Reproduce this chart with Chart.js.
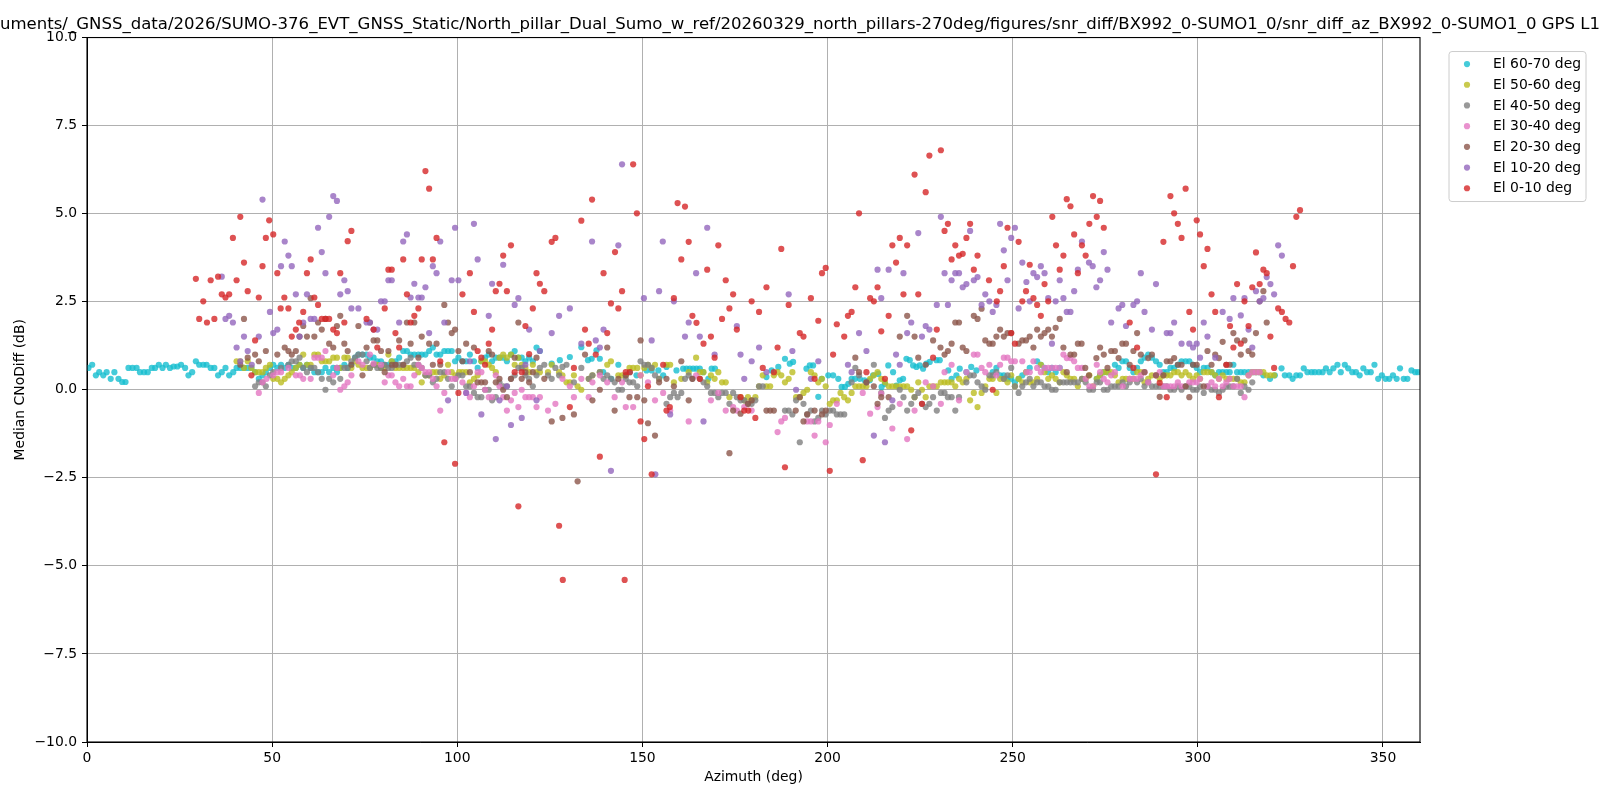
<!DOCTYPE html>
<html><head><meta charset="utf-8">
<script src="https://cdn.jsdelivr.net/npm/chart.js@4.4.1/dist/chart.umd.min.js"></script>
<style>html,body{margin:0;padding:0;background:#fff;}canvas{display:block;}</style>
</head><body>
<canvas id="c" width="1600" height="800"></canvas>
<script>
const titleText = "uments/_GNSS_data/2026/SUMO-376_EVT_GNSS_Static/North_pillar_Dual_Sumo_w_ref/20260329_north_pillars-270deg/figures/snr_diff/BX992_0-SUMO1_0/snr_diff_az_BX992_0-SUMO1_0 GPS L1";
const xTicks = [0, 50, 100, 150, 200, 250, 300, 350];
const xTickLabels = ["0", "50", "100", "150", "200", "250", "300", "350"];
const yTicks = [-10, -7.5, -5, -2.5, 0, 2.5, 5, 7.5, 10];
const yTickLabels = ["\u221210.0", "\u22127.5", "\u22125.0", "\u22122.5", "0.0", "2.5", "5.0", "7.5", "10.0"];
const seriesLabels = ["El 60-70 deg", "El 50-60 deg", "El 40-50 deg", "El 30-40 deg", "El 20-30 deg", "El 10-20 deg", "El 0-10 deg"];
const seriesColors = ["rgba(23,190,207,0.8)", "rgba(188,189,34,0.8)", "rgba(127,127,127,0.8)", "rgba(227,119,194,0.8)", "rgba(140,86,75,0.8)", "rgba(148,103,189,0.8)", "rgba(214,39,40,0.8)"];

// [azimuth deg, median CNo diff dB]
const el60_70 = [
[0.4,0.62],[1.4,0.71],[2.4,0.41],[3.3,0.5],[4.4,0.41],[5.3,0.5],[6.4,0.31],[7.4,0.5],[8.5,0.31],[9.5,0.22],[10.4,0.22],[11.2,0.62],[12.3,0.62],[13.4,0.62],[14.3,0.5],[15.4,0.5],[16.4,0.5],[17.5,0.62],[18.4,0.62],[19.4,0.71],[20.4,0.62],[21.3,0.71],[22.4,0.62],[23.4,0.66],[24.4,0.66],[25.4,0.71],[26.5,0.62],[27.4,0.41],[28.4,0.5],[29.4,0.81],[30.3,0.71],[31.4,0.71],[32.3,0.71],[33.4,0.62],[34.4,0.62],[35.4,0.41],[36.4,0.5],[37.4,0.62],[38.4,0.41],[39.5,0.5],
[40.4,0.62],[41.4,0.62],[42.4,0.62],[43.4,0.62],[44.4,0.62],[45.4,0.5],[46.4,0.31],[47.4,0.41],[48.3,0.5],[49.4,0.62],[50.3,0.71],[51.4,0.62],[52.4,0.71],[53.4,0.62],[54.4,0.71],[55.3,0.62],[56.4,0.62],[57.4,0.71],[58.4,0.62],[59.4,0.71],[60.4,0.62],[61.4,0.5],[62.4,0.5],[63.4,0.5],[64.4,0.62],[65.4,0.5],[66.5,0.62],[67.5,0.5],[68.4,0.62],[69.5,0.71],[70.4,0.62],[71.4,0.71],[72.4,0.91],[73.3,1.0],[74.4,1.0],[75.5,1.0],[76.4,0.91],[77.4,0.91],[78.4,0.81],[79.4,0.81],[80.4,0.71],[81.4,0.71],[82.3,0.81],[83.3,0.81],[84.3,0.91],[85.4,1.1],[86.4,1.1],[87.4,1.0],[88.4,1.0],[89.5,1.0],[90.4,1.0],[91.4,1.0],[92.4,1.1],[93.4,1.2],[94.4,1.0],[95.4,1.0],[96.5,1.1],[97.5,1.1],[98.5,1.1],[99.4,0.81],[100.3,0.91],[101.4,0.81],[102.4,0.81],[103.4,1.0],[104.5,0.81],[105.5,0.62],[106.5,0.81],[107.5,0.91],[108.5,1.0],[109.4,0.81],[110.4,0.91],[111.4,0.91],[112.4,0.91],[113.4,0.81],[114.5,1.0],[115.5,1.1],[116.5,0.91],[117.4,0.91],[118.4,0.81],[119.4,0.91],[120.4,0.81],[121.4,1.2],[122.3,1.1],
[125.5,0.74],[127.7,0.84],[130.4,0.93],[133.5,1.21],[135.3,0.84],[136.3,0.88],[137.6,1.12],[138.5,0.88],[139.4,0.5],[141.6,0.31],[143.5,0.71],[146.6,0.5],[148.4,0.41],[151.1,0.55],[152.5,0.55],[154.3,0.55],[155.6,0.41],[156.5,0.65],[159.2,0.55],[161.0,0.6],[161.9,0.6],[162.8,0.6],[163.7,0.6],[164.6,0.6],[165.5,0.6],[166.4,0.5],[167.8,0.31],[168.7,0.6],[169.6,0.6],
[183.5,0.36],[184.9,0.55],[186.7,0.65],[188.5,0.88],[189.8,0.74],[190.7,0.79],[194.3,0.6],[195.2,0.69],[196.1,0.69],[197.5,-0.2],[198.4,0.31],[200.2,0.41],[201.5,0.41],[202.9,0.31],[203.8,0.08],[204.7,0.08],[205.6,0.17],[206.5,0.31],[207.4,0.31],[208.7,0.31],[210.0,0.27],[211.4,0.27],[212.3,0.41],[213.7,0.45],[214.6,0.08],[215.5,0.17],[216.4,0.69],[217.7,0.5],[218.6,0.12],[219.5,0.27],[220.4,0.31],[221.3,0.88],[222.2,0.84],[223.1,0.69],[224.0,0.65],[224.9,0.69],[225.8,0.6],[226.7,0.74],[227.6,0.79],[229.4,0.84],[230.3,0.84],[232.6,0.55],[233.5,0.31],[234.8,0.41],[235.7,0.6],[237.5,0.5],[238.8,0.65],[240.2,0.55],
[244.6,0.5],[245.6,0.62],[246.6,0.41],[247.6,0.41],[248.6,0.31],[249.6,0.31],[250.6,0.21],[251.6,0.31],[252.6,0.41],[253.7,0.5],[254.6,0.62],[256.6,0.81],[257.6,0.71],[258.6,0.62],[259.6,0.5],[260.6,0.62],[261.6,0.5],[262.7,0.62],[272.7,0.31],[273.6,0.41],[274.6,0.5],[275.6,0.5],[277.6,0.71],[278.6,0.62],[279.6,0.81],[280.6,0.81],[281.6,0.62],[282.6,0.5],[283.6,0.62],[284.6,0.81],[285.6,0.91],[286.6,1.0],[287.6,0.91],[288.7,0.81],[289.7,0.71],[290.7,0.5],[291.6,0.5],[292.6,0.62],[293.6,0.62],[294.6,0.71],[295.6,0.81],[296.7,0.81],[297.7,0.81],[298.7,0.71],[299.7,0.62],[300.6,0.5],[301.6,0.62],[302.6,0.62],[303.7,0.5],[304.7,0.41],[305.7,0.5],[306.7,0.5],[307.7,0.5],[308.6,0.5],[309.6,0.71],[310.6,0.5],[311.6,0.5],[312.6,0.5],[313.7,0.5],[314.7,0.5],[315.7,0.5],[316.7,0.5],[317.7,0.41],
[319.5,0.31],[320.8,0.41],[322.6,0.61],[323.5,0.41],[324.7,0.41],[325.6,0.31],[326.6,0.41],[327.6,0.41],[328.6,0.61],[329.6,0.5],[330.7,0.5],[331.6,0.5],[332.7,0.5],[333.7,0.5],[334.6,0.61],[335.6,0.5],[336.6,0.61],[337.7,0.71],[338.6,0.5],[339.7,0.71],[340.6,0.61],[341.7,0.5],[342.7,0.5],[343.7,0.41],[344.7,0.61],[345.7,0.5],[346.7,0.5],[347.7,0.71],[348.7,0.31],[349.7,0.41],[350.7,0.31],[351.7,0.31],[352.7,0.41],[353.7,0.31],[354.6,0.61],[355.6,0.31],[356.6,0.31],[357.7,0.55],[358.7,0.5],[359.5,0.5]
];

const el50_60 = [
[40.4,0.81],[41.4,0.81],[42.4,0.62],[43.4,0.81],[44.4,0.62],[45.4,0.5],[46.4,0.5],[47.4,0.5],[48.3,0.62],[49.4,0.71],[50.3,0.31],[51.4,0.31],[52.4,0.21],[53.4,0.31],[54.4,0.41],[55.3,0.5],[56.4,0.62],[57.4,0.71],[58.4,1.0],[59.4,0.71],[60.4,0.71],[61.4,1.0],[62.4,1.0],[63.4,0.81],[64.4,0.81],[65.4,0.81],[66.5,0.91],[67.5,0.91],[68.4,0.62],[69.5,0.91],[70.4,0.91],[71.4,0.62],[72.4,0.81],[73.3,0.71],[74.4,0.62],[75.5,0.62],[76.4,0.62],[77.4,0.71],[78.4,0.71],[79.4,0.62],[80.4,0.62],[81.4,1.0],[82.3,0.81],[83.3,0.62],[84.3,0.62],[85.4,0.62],[86.4,0.62],[87.4,0.62],[88.4,0.62],[89.5,0.5],[90.4,0.21],[91.4,0.41],[92.4,0.41],[93.4,0.5],[94.4,0.5],[95.4,0.31],[96.5,0.41],[97.5,0.71],[98.5,0.5],[99.5,0.41],[100.5,0.5],[101.4,0.5],[102.4,0.5],[103.4,0.21],[104.5,0.31],[105.5,0.41],[106.5,0.81],[107.5,0.81],[108.5,0.71],[109.4,0.62],[110.4,0.5],[111.4,0.91],[112.4,1.0],[113.4,0.91],[114.5,1.0],[115.5,0.71],[116.5,0.91],[117.4,0.71],[118.4,0.62],[119.4,0.5],[120.4,0.71],[121.4,0.5],[122.3,0.5],
[124.5,0.5],[125.5,0.71],[127.5,0.5],[128.4,0.41],[129.5,0.21],[130.4,0.21],[131.5,0.41],[132.5,0.1],[133.5,0.0],[135.5,0.31],[136.5,0.41],[138.5,0.5],[140.5,0.71],[141.5,0.81],[143.5,0.41],[144.5,0.41],[145.5,0.41],[146.5,0.62],[147.5,0.62],[148.6,0.62],[149.5,0.41],[150.5,0.62],[151.5,0.71],[152.5,0.62],[153.4,0.71],[154.5,0.31],[156.5,0.71],[157.5,0.71],[158.5,0.21],[160.5,0.31],[162.5,0.5],[164.5,0.91],[165.5,0.5],[166.5,0.5],[167.5,0.21],[168.5,0.41],[169.5,0.31],[170.5,0.5],[171.5,0.21],[172.5,0.21],[173.5,-0.21],[176.5,-0.21],[177.5,-0.3],[178.5,-0.21],[179.5,-0.3],[180.5,-0.21],[181.5,0.1],[182.5,0.41],[183.5,0.1],[184.5,0.1],[185.5,0.41],[186.5,0.5],[187.5,0.41],[188.5,0.21],[189.5,0.31],[190.5,0.5],[191.5,-0.21],[192.5,-0.21],[193.5,-0.09],[194.5,0.0],[195.5,0.5],[196.5,0.41],[197.5,0.21],[198.5,0.31],[199.5,0.1],[200.6,-0.4],[201.5,-0.3],[202.5,-0.3],[203.5,-0.09],[204.5,-0.21],[205.5,-0.3],[206.5,-0.09],[207.5,0.1],[208.5,0.1],[209.5,0.1],[210.5,0.1],[211.5,0.31],[212.5,0.41],[213.5,0.5],[214.5,0.31],[215.5,0.21],[216.5,0.1],[217.5,0.1],[218.5,0.1],[219.5,0.1],[220.5,0.1],[221.5,0.1],[222.6,0.0],[223.5,-0.21],[224.5,0.21],[225.5,0.0],[226.5,-0.21],[227.5,0.1],[228.5,0.1],[229.5,0.1],[230.6,0.21],[231.6,0.21],[232.5,0.21],[233.5,0.21],[234.5,0.1],[235.5,0.31],[236.5,0.21],[237.5,0.31],[238.5,-0.3],[239.5,-0.09],[240.5,-0.49],
[241.6,-0.09],[242.6,0.1],[243.7,0.31],[244.6,0.31],[245.6,-0.09],[246.6,0.31],[247.6,0.31],[248.6,0.21],[249.6,0.41],[250.6,0.1],[251.6,0.31],[252.6,0.21],[253.6,0.5],[254.6,0.21],[255.6,0.21],[256.6,0.31],[257.6,0.71],[258.6,0.5],[259.6,0.31],[260.6,0.41],[261.6,0.31],[262.7,0.21],[263.7,0.5],[264.6,0.41],[265.6,0.31],[266.6,0.31],[267.6,0.1],[268.7,0.31],[269.7,0.31],[270.7,0.41],[271.7,0.1],[272.7,0.31],[273.6,0.41],[274.6,0.5],[275.6,0.5],[276.6,0.5],[277.6,0.41],[278.6,0.21],[279.7,0.31],[280.6,0.31],[281.6,0.31],[282.6,0.31],[283.6,0.5],[284.6,0.5],[285.6,0.21],[286.6,0.31],[287.6,0.41],[288.7,0.41],[289.7,0.31],[290.7,0.41],[291.6,0.41],[292.6,0.41],[293.6,0.5],[294.6,0.5],[295.6,0.41],[296.7,0.5],[297.7,0.41],[298.7,0.31],[299.7,0.41],[300.6,0.31],[301.6,0.5],[302.6,0.5],[303.7,0.5],[304.7,0.41],[305.7,0.31],[306.7,0.41],[307.7,0.31],[308.6,0.31],[309.6,0.31],[310.6,0.31],[311.6,0.21],[312.6,0.21],[313.7,0.41],[314.7,0.5],[315.7,0.5],[316.7,0.5],[317.7,0.5],[318.6,0.41],[319.6,0.41],[320.6,0.41]
];

const el40_50 = [
[45.4,0.1],[46.4,0.21],[47.4,0.21],[48.3,0.1],[49.4,0.41],[50.3,0.5],[52.4,0.62],[54.4,0.71],[55.3,0.81],[56.4,0.81],[57.4,0.91],[58.4,0.62],[59.4,0.5],[60.4,0.62],[61.4,0.62],[62.4,0.5],[63.4,0.31],[64.4,0.0],[65.4,0.31],[66.5,0.21],[67.5,0.62],[68.4,0.31],[69.5,0.62],[70.4,0.62],[71.4,0.81],[72.4,0.91],[73.3,1.0],[74.4,1.0],[75.5,0.81],[76.4,0.62],[77.4,0.71],[78.4,0.62],[79.4,0.62],[80.4,0.71],[81.4,0.62],[82.3,0.62],[83.3,0.71],[84.3,0.71],[85.4,0.71],[86.4,0.81],[87.4,0.91],[88.4,0.71],[89.5,0.71],[90.4,0.62],[91.4,0.41],[92.4,0.41],[93.4,0.21],[94.4,0.31],[95.4,0.5],[96.5,0.5],[97.5,0.31],[98.5,0.1],[99.5,0.31],[100.3,0.41],[101.4,0.41],[102.4,0.1],[103.4,0.1],[104.5,-0.09],[105.5,-0.21],[106.5,-0.21],[107.5,0.0],[108.5,0.0],[109.4,-0.3],[110.4,-0.21],[111.4,0.21],[112.4,0.1],[113.4,0.1],[114.5,0.31],[115.5,0.41],[116.5,0.62],[117.4,0.62],[118.4,0.41],[119.4,0.31],[120.4,0.1],[121.4,0.41],[122.3,0.62],
[123.5,0.71],[124.5,0.41],[125.5,0.31],[126.5,0.62],[127.5,0.41],[128.4,0.65],[129.5,0.71],[131.5,0.21],[133.5,0.62],[135.5,0.31],[136.5,0.41],[138.5,0.5],[139.5,0.31],[140.5,0.41],[141.5,0.31],[142.5,0.21],[143.5,0.0],[144.5,0.0],[145.5,0.31],[146.5,0.21],[147.5,0.21],[148.6,0.1],[149.5,0.81],[150.5,0.71],[151.5,0.71],[152.5,0.62],[153.4,0.41],[154.5,0.31],[156.5,-0.4],[157.5,-0.21],[158.5,-0.09],[159.5,-0.21],[160.5,-0.09],[161.5,0.31],[162.5,0.41],[163.5,0.31],[165.5,0.31],[166.5,0.21],[167.5,0.1],[168.5,-0.09],[169.5,-0.09],[170.5,-0.21],[171.5,-0.09],[172.5,-0.09],[173.5,-0.4],[174.5,-0.09],[175.5,-0.21],[176.5,-0.3],[177.5,-0.3],[178.5,-0.4],[179.5,-0.4],[180.5,-0.3],[181.5,0.1],[182.5,0.1],[188.5,-0.59],[189.5,-0.59],[190.5,-0.7],[191.5,-0.3],[192.5,-1.49],[193.5,-0.4],[194.5,-0.7],[195.5,-0.59],[196.5,-0.9],[197.5,-0.8],[198.5,-0.59],[199.5,-0.7],[200.6,-0.59],[201.5,-0.59],[202.5,-0.7],[203.5,-0.7],[204.5,-0.7],[206.5,0.21],[207.5,0.62],[208.5,0.41],[210.5,0.21],[212.5,0.71],[214.5,-0.09],[215.5,-0.8],[216.5,-0.59],[217.5,-0.49],[219.5,0.0],[220.5,-0.21],[221.5,-0.59],[222.6,-0.4],[223.5,-0.21],[224.5,-0.09],[225.5,-0.4],[226.5,-0.49],[227.5,-0.4],[228.5,-0.21],[229.5,-0.59],[230.6,-0.09],[231.6,-0.09],[232.5,-0.21],[233.5,-0.21],[234.5,-0.59],[235.5,-0.21],[237.5,0.21],[238.5,0.41],[239.5,0.41],[240.5,0.21],
[241.6,0.1],[242.6,0.0],[243.7,0.41],[244.6,0.41],[245.6,0.5],[247.6,0.31],[248.6,0.41],[249.6,0.62],[250.6,0.1],[251.6,-0.09],[252.6,0.1],[253.6,0.21],[254.6,0.31],[255.6,0.1],[256.6,0.21],[257.6,0.21],[258.6,0.1],[259.6,0.1],[260.6,0.0],[261.6,0.0],[262.7,0.21],[263.7,0.21],[264.6,0.21],[265.6,0.21],[266.6,0.21],[267.6,0.21],[268.7,0.31],[269.7,0.21],[270.7,0.0],[271.7,0.0],[272.7,0.21],[273.6,0.21],[274.6,0.0],[275.6,0.0],[276.6,0.1],[277.6,0.1],[278.6,0.1],[279.7,0.21],[280.6,0.1],[281.6,0.21],[283.6,0.21],[284.6,0.31],[285.6,0.1],[286.6,0.21],[287.6,0.1],[288.7,0.1],[289.7,0.1],[290.7,0.1],[291.6,0.1],[292.6,0.0],[293.6,0.0],[294.6,0.1],[295.6,0.0],[296.7,0.1],[297.7,0.1],[298.7,0.0],[299.7,0.0],[300.6,0.1],[301.6,-0.09],[302.6,0.1],[303.7,0.0],[304.7,0.0],[305.7,-0.09],[306.7,0.0],[307.7,0.1],[308.6,0.1],[309.6,0.1],[310.6,0.31],[311.6,-0.09],[312.6,0.1],[313.7,0.0],[314.7,0.21]
];

const el30_40 = [
[46.4,-0.09],[47.4,0.21],[48.5,0.31],[50.3,0.41],[51.4,0.5],[52.4,0.5],[54.4,0.62],[56.4,0.41],[57.5,0.41],[58.4,0.31],[60.4,0.31],[61.4,0.91],[62.4,0.91],[63.4,0.91],[64.4,1.1],[66.5,0.41],[67.5,0.62],[68.4,0.0],[69.5,0.1],[70.4,0.21],[71.4,0.41],[73.3,0.81],[74.4,0.71],[76.4,1.0],[77.4,0.74],[79.4,0.71],[80.4,0.21],[81.4,0.41],[82.3,0.41],[83.3,0.21],[84.3,0.1],[85.4,0.31],[86.4,0.1],[87.4,0.1],[88.4,0.41],[89.5,0.71],[90.4,0.62],[91.4,0.5],[92.4,0.5],[93.4,0.31],[94.4,0.1],[95.4,-0.59],[96.5,-0.09],[97.5,0.5],[98.5,0.31],[99.5,0.31],[101.4,0.21],[102.4,-0.09],[103.4,-0.21],[104.5,0.1],[105.5,0.5],[106.5,0.5],[107.5,0.0],[108.5,-0.21],[109.4,-0.21],[110.4,0.41],[111.4,0.1],[112.4,-0.21],[113.4,-0.59],[114.5,-0.3],[115.5,-0.09],[116.5,-0.49],[117.4,0.0],[118.4,-0.21],[119.4,-0.21],[120.4,-0.21],[121.4,-0.49],[122.3,-0.21],
[124.5,-0.59],[126.5,-0.4],[128.4,0.31],[130.4,0.1],[131.5,-0.21],[133.5,0.31],[135.5,-0.21],[136.5,0.21],[138.5,0.41],[140.5,0.21],[142.5,-0.21],[144.5,0.21],[145.5,-0.49],[147.5,-0.49],[149.5,0.41],[151.5,0.21],[153.4,-0.3],[155.6,-0.09],[157.5,-0.59],[162.5,-0.9],[164.5,0.41],[168.5,-0.3],[170.5,-0.09],[172.5,-0.59],[174.5,-0.49],[175.5,-0.59],[177.5,-0.49],[179.5,-0.59],[186.5,-1.2],[187.5,-0.9],[188.5,-0.8],[194.5,-0.9],[195.5,-0.9],[196.5,-1.3],[197.5,-0.9],[199.5,-1.49],[200.6,-1.0],[202.5,-0.4],[209.5,-0.09],[211.5,-0.68],[213.5,-0.49],[214.5,-0.11],[217.5,-1.1],[219.5,-0.4],[221.5,-1.4],[223.5,-0.59],[226.5,0.21],[228.5,0.1],[230.6,-0.4],[231.6,0.5],[233.5,0.71],[235.5,-0.3],[237.5,0.5],[239.5,1.0],[240.5,1.0],
[241.6,0.62],[242.6,0.5],[243.7,0.71],[245.6,0.41],[246.6,0.71],[247.6,0.91],[248.6,0.91],[249.6,0.81],[250.6,0.81],[252.6,0.81],[253.7,0.5],[254.6,0.5],[255.6,0.81],[256.6,0.62],[257.6,0.5],[258.6,0.62],[259.6,0.62],[260.6,0.62],[261.6,0.62],[262.7,0.62],[263.7,1.0],[264.6,0.9],[265.6,0.9],[266.6,0.81],[267.6,0.62],[268.7,0.62],[269.7,0.31],[270.7,0.1],[271.7,0.1],[272.7,0.71],[273.6,0.5],[274.6,0.31],[275.6,0.21],[276.6,0.41],[277.6,0.5],[279.7,0.1],[281.6,0.31],[282.6,0.31],[283.6,0.31],[284.6,0.41],[285.6,0.5],[286.6,0.21],[288.7,0.41],[289.7,0.5],[290.7,0.1],[291.6,0.1],[292.6,0.1],[293.6,0.1],[294.6,0.21],[295.6,0.1],[297.7,0.21],[298.7,0.21],[299.7,0.21],[300.6,0.31],[302.6,0.1],[303.7,0.21],[304.7,0.1],[305.7,0.31],[306.7,0.1],[307.7,0.21],[308.6,0.31],[309.6,0.1],[310.6,0.1],[311.6,0.1],[312.6,-0.21],[313.7,0.41],[314.7,0.5],[315.7,0.5],[316.7,0.5]
];

const el20_30 = [
[41.4,0.71],[42.4,2.01],[43.4,0.91],[45.4,1.0],[46.4,0.81],[48.3,1.1],[51.4,1.0],[53.4,1.2],[54.4,1.1],[55.3,1.0],[56.4,1.1],[57.4,1.51],[58.4,1.81],[59.4,1.51],[60.4,2.6],[61.4,1.51],[62.4,1.91],[63.4,1.71],[64.4,2.01],[65.4,1.31],[66.5,1.2],[67.5,1.81],[68.4,2.1],[69.5,1.31],[70.4,1.1],[71.4,0.71],[73.3,1.81],[74.4,0.41],[75.5,1.2],[76.4,1.91],[77.4,1.4],[78.4,1.4],[79.4,1.1],[80.4,0.5],[81.4,1.1],[82.3,0.71],[83.3,0.71],[84.3,1.4],[85.4,0.71],[86.4,1.91],[87.4,1.31],[88.4,1.91],[89.5,0.91],[90.4,1.51],[92.4,1.31],[93.4,0.71],[94.4,1.31],[95.4,0.71],[96.5,2.41],[97.5,1.91],[98.5,1.61],[99.4,1.71],[100.3,1.1],[101.4,0.81],[102.4,1.31],[103.4,0.5],[104.5,1.2],[105.5,0.21],[106.5,0.21],[107.5,0.21],[108.5,1.1],[109.4,1.0],[110.4,0.21],[111.4,0.31],[112.4,0.0],[113.4,-0.21],[114.5,0.31],[115.5,0.91],[116.5,1.91],[117.4,0.31],[118.4,0.5],[119.4,0.21],[120.4,0.5],[121.4,0.91],
[123.5,0.31],[125.5,-0.9],[128.4,-0.8],[131.5,-0.7],[132.5,-2.6],[134.5,1.0],[136.5,-0.3],[138.5,0.0],[140.5,1.2],[142.5,-0.59],[143.5,0.31],[145.5,0.41],[146.5,-0.21],[148.6,-0.21],[149.5,1.4],[150.5,-0.3],[151.5,-0.95],[153.4,-1.3],[154.5,0.21],[156.5,0.31],[158.5,0.1],[160.5,0.81],[162.5,-0.3],[163.5,0.31],[173.5,-1.8],[174.5,-0.59],[176.5,-0.68],[178.5,-0.4],[179.5,-0.3],[183.5,-0.59],[184.5,-0.59],[185.5,-0.59],[191.4,-0.59],[192.5,-0.21],[193.5,-0.9],[194.5,-0.7],[196.5,-0.59],[198.5,-0.7],[199.5,-0.59],[207.5,0.91],[208.5,0.5],[210.5,0.21],[212.5,0.1],[213.5,-0.4],[214.5,-0.21],[216.5,-0.21],[219.5,1.51],[221.5,2.1],[223.5,1.51],[224.5,0.91],[226.5,0.71],[228.5,1.4],[230.5,1.2],[231.6,1.0],[232.5,1.1],[233.5,1.31],[234.5,1.91],[235.5,1.91],[236.5,1.2],[237.5,1.1],[239.5,2.1],[240.5,2.01],
[241.6,2.3],[242.6,1.4],[243.7,1.31],[244.6,1.31],[245.6,1.51],[246.6,1.71],[247.6,1.51],[248.6,1.61],[249.6,1.61],[251.6,1.31],[252.6,1.4],[253.6,1.4],[254.6,1.51],[255.6,1.2],[256.6,1.71],[257.6,1.51],[258.6,1.61],[259.6,1.71],[260.6,1.51],[261.6,1.76],[262.7,2.01],[263.7,1.2],[264.6,0.5],[265.6,1.0],[266.6,1.0],[267.6,1.31],[268.6,1.31],[269.6,0.62],[270.6,0.41],[272.6,0.9],[273.6,1.2],[274.6,1.0],[275.6,0.62],[276.6,1.1],[277.6,1.1],[278.6,0.9],[279.6,1.31],[280.6,1.31],[281.6,0.71],[282.6,1.1],[283.6,1.61],[284.6,1.0],[285.6,0.5],[286.6,0.9],[287.6,1.0],[288.7,0.41],[289.7,-0.2],[290.7,0.41],[291.6,0.81],[292.6,0.81],[293.6,0.9],[294.6,0.71],[295.6,0.71],[296.7,0.1],[297.7,-0.21],[298.7,0.71],[299.7,0.71],[301.6,0.1],[302.6,1.1],[303.7,0.71],[304.7,1.0],[305.7,0.9],[306.7,1.36],[307.7,0.71],[308.6,0.71],[309.6,1.61],[310.6,1.4],[311.6,1.0],[312.6,1.4],[313.7,1.1],[314.7,1.0],[315.7,1.61],[316.7,2.51],[317.7,2.8],[318.6,1.91]
];

const el10_20 = [
[36.4,3.21],[37.4,2.01],[38.4,2.1],[39.4,1.91],[40.4,1.2],[41.4,0.81],[42.4,1.51],[43.4,1.1],[44.5,0.71],[46.4,1.51],[47.4,5.4],[49.4,2.21],[50.3,1.61],[51.4,1.71],[52.4,3.51],[53.4,4.21],[54.4,3.81],[55.3,3.51],[56.4,2.71],[57.4,1.51],[58.4,1.91],[59.4,2.71],[60.4,2.01],[61.4,2.01],[62.4,4.6],[63.4,3.91],[64.4,3.31],[65.4,4.91],[66.5,5.5],[67.5,5.36],[68.4,2.71],[69.5,3.11],[70.4,2.8],[71.4,2.31],[73.3,2.31],[75.5,1.91],[76.4,1.91],[77.4,1.71],[78.4,1.71],[79.4,2.51],[80.4,2.51],[81.4,3.11],[82.3,3.11],[84.3,1.91],[85.4,4.21],[86.4,4.41],[87.4,2.62],[88.4,3.01],[89.5,2.62],[90.4,2.62],[91.4,2.91],[92.4,1.61],[93.4,3.51],[94.4,3.31],[95.4,4.21],[96.5,1.91],[97.5,-0.3],[98.5,3.11],[99.4,4.6],[100.3,3.11],[102.4,-0.09],[103.4,0.81],[104.5,4.71],[105.5,3.7],[106.5,-0.7],[108.5,2.1],[109.4,3.01],[110.4,-1.4],[111.4,-0.3],[112.4,3.55],[113.4,0.1],[114.5,-1.0],[115.5,2.41],[116.5,2.6],[117.4,-0.8],[118.4,0.71],[119.4,1.71],[121.4,-0.3],[122.3,1.1],
[125.5,1.61],[127.5,2.1],[130.4,2.31],[133.5,1.31],[136.4,4.21],[137.4,1.4],[138.5,1.2],[139.5,1.71],[141.5,-2.3],[143.5,4.1],[144.5,6.4],[150.4,2.6],[152.5,1.4],[153.5,-2.4],[154.5,2.8],[155.5,4.21],[157.5,-0.7],[158.5,2.51],[161.5,1.51],[162.5,1.91],[164.5,3.31],[165.5,1.51],[166.5,-0.9],[167.5,4.6],[169.5,1.0],[175.5,1.81],[176.5,1.0],[177.5,0.31],[179.5,0.81],[181.5,1.2],[183.5,0.5],[189.5,2.71],[190.5,1.1],[191.5,0.0],[195.5,0.31],[197.5,0.81],[205.5,0.71],[206.5,0.5],[208.5,1.61],[210.5,1.1],[212.5,-1.3],[213.5,3.41],[214.5,2.6],[215.5,-1.49],[216.5,3.41],[217.5,-0.3],[218.5,1.0],[219.5,0.71],[220.5,3.31],[221.5,1.61],[222.6,1.91],[224.5,4.45],[225.5,1.51],[226.5,1.81],[227.5,1.71],[229.5,2.41],[230.6,4.91],[231.6,3.31],[232.5,2.41],[233.5,3.11],[234.5,3.31],[235.5,3.31],[236.5,2.91],[237.5,3.0],[238.5,4.51],[239.5,3.11],[240.5,3.2],
[241.6,2.41],[242.6,2.71],[243.7,2.51],[244.6,2.21],[245.6,2.41],[246.6,4.71],[247.6,3.96],[248.6,3.11],[249.6,4.31],[250.6,4.6],[251.6,2.31],[252.6,3.61],[253.7,3.06],[254.6,2.51],[255.6,3.31],[256.6,3.2],[257.6,3.51],[258.6,3.31],[259.6,2.6],[260.6,1.31],[261.6,2.51],[262.7,3.11],[263.7,2.6],[264.6,2.21],[265.6,2.21],[266.6,2.8],[267.6,3.41],[268.7,4.21],[270.6,3.61],[271.6,3.51],[272.6,2.91],[273.6,3.11],[274.6,3.91],[275.6,3.41],[276.6,1.91],[278.6,2.31],[279.6,2.41],[280.6,1.81],[282.6,2.41],[283.6,2.51],[284.6,3.31],[285.6,2.21],[287.6,1.71],[288.7,3.0],[291.6,1.61],[292.6,1.61],[293.6,1.91],[295.6,1.31],[297.7,1.31],[298.7,1.2],[299.7,1.31],[300.6,0.91],[301.6,1.91],[302.6,1.51],[304.7,0.91],[306.7,2.21],[308.6,2.01],[309.6,2.6],[311.6,2.11],[312.6,2.6],[313.7,1.71],[314.7,1.2],[315.7,2.8],[316.7,2.51],[317.7,2.6],[318.6,3.2],[319.6,3.0],[320.6,2.71],[321.7,4.1],[322.7,3.81]
];

const el0_10 = [
[29.4,3.15],[30.3,2.01],[31.4,2.51],[32.4,1.91],[33.4,3.11],[34.4,2.01],[35.4,3.21],[36.4,2.71],[37.4,2.62],[38.4,2.71],[39.4,4.31],[40.4,3.11],[41.4,4.91],[42.4,3.61],[43.4,2.8],[44.4,0.41],[45.4,1.4],[46.4,2.62],[47.4,3.51],[48.3,4.31],[49.2,4.81],[50.3,4.41],[51.4,3.31],[52.3,2.31],[53.3,2.62],[54.4,2.31],[55.3,1.51],[56.4,1.71],[57.3,1.91],[58.4,2.21],[59.4,3.31],[60.4,3.7],[61.4,2.62],[62.4,2.41],[63.4,2.01],[64.4,2.01],[65.4,2.01],[66.5,1.71],[67.5,1.61],[68.4,3.31],[69.5,1.91],[70.4,4.22],[71.4,4.51],[75.5,2.01],[77.4,1.71],[78.4,1.2],[80.4,2.31],[81.4,3.41],[82.3,3.41],[83.3,1.61],[84.3,1.2],[85.4,3.7],[86.4,2.71],[87.4,1.91],[88.4,2.1],[89.5,2.31],[90.4,3.7],[91.4,6.21],[92.4,5.71],[93.4,3.7],[94.4,4.31],[95.4,0.81],[96.5,-1.49],[99.4,-2.1],[100.3,-0.09],[101.4,2.71],[103.4,3.31],[104.5,2.21],[105.5,1.1],[106.5,0.91],[107.5,0.71],[108.5,1.31],[109.4,1.71],[110.4,2.8],[111.4,3.01],[112.4,3.81],[113.4,2.8],[114.5,4.1],[115.5,0.5],[116.5,-3.31],[117.4,0.5],[118.4,1.81],[119.4,1.01],[120.4,2.31],[121.4,3.31],
[122.3,3.01],[123.5,2.8],[125.5,4.2],[126.5,4.31],[127.5,-3.86],[128.5,-5.4],[130.4,-0.49],[131.5,0.62],[133.5,4.8],[134.5,1.71],[135.5,1.31],[136.4,5.4],[137.4,1.0],[138.5,-1.9],[139.5,3.31],[140.5,1.61],[141.5,2.45],[142.6,3.91],[143.5,2.31],[144.5,2.8],[145.2,-5.4],[145.5,0.5],[146.6,0.5],[147.5,6.4],[148.5,5.01],[149.5,-0.9],[150.5,-1.4],[151.5,0.1],[152.5,-2.4],[155.6,0.71],[156.5,-0.59],[157.4,-0.49],[158.5,2.6],[159.5,5.3],[160.5,3.7],[161.5,5.2],[162.5,4.2],[163.5,2.1],[164.6,1.9],[165.5,0.31],[166.5,1.31],[167.5,3.41],[168.5,1.51],[169.5,0.91],[170.5,4.1],[171.5,2.01],[172.5,3.11],[173.5,2.31],[174.5,2.71],[175.5,1.71],[176.5,-0.21],[177.5,-0.59],[178.6,-0.59],[179.5,2.51],[180.5,-0.8],[181.5,2.21],[182.5,0.62],[183.5,2.91],[185.5,0.5],[186.5,1.2],[187.5,4.0],[188.5,-2.2],[189.5,2.41],[192.5,1.61],[193.5,1.51],[195.5,2.6],[196.5,0.31],[197.5,1.96],[198.5,3.31],[199.5,3.46],[200.6,-2.3],[201.5,1.0],[202.5,1.86],[204.5,1.51],[205.5,2.1],[206.5,2.21],[207.5,2.91],[208.5,5.01],[209.5,-2.0],[210.5,0.5],[211.5,2.6],[212.5,2.51],[213.5,2.91],[214.5,1.66],[215.5,0.31],[216.5,2.1],[217.5,4.1],[218.5,3.61],[219.5,4.31],[220.5,2.71],[221.5,4.1],[222.6,-1.15],[223.5,6.11],[224.5,2.71],[225.5,-0.4],[226.5,5.61],[227.5,6.65],[228.5,0.91],[229.5,1.71],[230.6,6.8],[231.6,4.51],[232.5,4.71],[233.5,3.7],[234.5,4.1],[235.5,3.81],[236.5,3.86],[237.5,4.31],[238.5,4.71],[239.5,3.41],[240.5,3.81],
[243.6,3.11],[244.6,0.0],[245.7,2.51],[246.6,2.8],[247.6,3.51],[248.6,4.6],[249.6,1.61],[250.6,1.31],[251.6,4.2],[252.6,2.51],[253.6,2.8],[254.6,3.55],[255.6,2.6],[256.6,2.41],[257.6,2.1],[258.6,3.0],[259.6,2.51],[260.7,4.91],[261.7,4.1],[262.7,3.41],[263.7,3.81],[264.6,5.41],[265.6,5.21],[266.6,4.41],[267.6,3.31],[268.7,4.1],[269.7,3.81],[270.7,4.71],[271.7,5.5],[272.7,4.91],[273.6,5.36],[274.6,4.6],[281.6,1.91],[282.6,0.62],[283.6,1.2],[288.7,-2.4],[289.7,0.2],[290.7,4.2],[291.6,-0.21],[292.6,5.5],[293.6,5.01],[294.6,4.71],[295.6,4.31],[296.7,5.71],[297.7,2.21],[298.7,1.71],[299.7,4.81],[300.6,4.41],[301.6,3.51],[302.6,4.0],[303.7,2.71],[304.7,2.21],[305.7,-0.21],[307.7,0.71],[308.7,1.81],[309.6,1.2],[310.6,3.0],[311.6,1.31],[312.6,2.51],[313.7,1.81],[314.7,2.91],[315.7,3.9],[316.7,3.0],[317.7,3.41],[318.6,3.31],[319.6,1.51],[320.6,0.62],[321.7,2.31],[322.7,2.21],[323.7,2.01],[324.7,1.91],[325.7,3.51],[326.6,4.91],[327.6,5.1]
];

const seriesData = [el60_70, el50_60, el40_50, el30_40, el20_30, el10_20, el0_10];

const datasets = seriesData.map((arr, i) => ({
  label: seriesLabels[i],
  data: arr.map(p => ({ x: p[0], y: p[1] })),
  backgroundColor: seriesColors[i],
  borderWidth: 0,
  pointRadius: 3.1,
  pointHoverRadius: 3.1,
  order: seriesData.length - i
}));

const framePlugin = {
  id: 'frame',
  afterDatasetsDraw(chart) {
    const a = chart.chartArea, ctx = chart.ctx;
    ctx.save();
    ctx.strokeStyle = '#000';
    ctx.lineWidth = 1.1;
    ctx.strokeRect(a.left, a.top, a.right - a.left, a.bottom - a.top);
    ctx.restore();
  }
};

const legendPlugin = {
  id: 'mplLegend',
  afterDraw(chart) {
    const ctx = chart.ctx;
    const a = chart.chartArea;
    const x0 = a.right + 29, y0 = a.top + 14, w = 137, h = 150, r = 3;
    ctx.save();
    ctx.beginPath();
    ctx.moveTo(x0 + r, y0);
    ctx.lineTo(x0 + w - r, y0);
    ctx.arcTo(x0 + w, y0, x0 + w, y0 + r, r);
    ctx.lineTo(x0 + w, y0 + h - r);
    ctx.arcTo(x0 + w, y0 + h, x0 + w - r, y0 + h, r);
    ctx.lineTo(x0 + r, y0 + h);
    ctx.arcTo(x0, y0 + h, x0, y0 + h - r, r);
    ctx.lineTo(x0, y0 + r);
    ctx.arcTo(x0, y0, x0 + r, y0, r);
    ctx.closePath();
    ctx.fillStyle = 'rgba(255,255,255,0.8)';
    ctx.fill();
    ctx.strokeStyle = '#cccccc';
    ctx.lineWidth = 1;
    ctx.stroke();
    ctx.font = '13.9px "DejaVu Sans"';
    ctx.textBaseline = 'middle';
    ctx.textAlign = 'left';
    chart.data.datasets.forEach((ds, i) => {
      const y = y0 + 12.5 + i * 20.7;
      ctx.beginPath();
      ctx.arc(x0 + 18, y, 3.1, 0, Math.PI * 2);
      ctx.fillStyle = ds.backgroundColor;
      ctx.fill();
      ctx.fillStyle = '#000';
      ctx.fillText(ds.label, x0 + 44, y + 0.5);
    });
    ctx.restore();
  }
};

Chart.defaults.font.family = '"DejaVu Sans", sans-serif';
Chart.defaults.color = '#000';

new Chart(document.getElementById('c'), {
  type: 'scatter',
  data: { datasets },
  options: {
    responsive: false,
    animation: false,
    devicePixelRatio: 1,
    layout: { padding: 0 },
    plugins: {
      legend: { display: false },
      tooltip: { enabled: false },
      title: {
        display: true, text: titleText, color: '#000',
        font: { size: 16.7, weight: 'normal' },
        padding: { top: 15, bottom: 2.5 }
      }
    },
    scales: {
      x: {
        type: 'linear', min: 0, max: 360,
        afterBuildTicks: s => { s.ticks = xTicks.map(v => ({ value: v })); },
        afterFit: s => { s.height = 58; },
        ticks: { font: { size: 13.9 }, padding: 3, maxRotation: 0, autoSkip: false,
          callback: (v, i) => xTickLabels[i] },
        grid: { color: '#b0b0b0', lineWidth: 1, tickColor: '#000', tickLength: 5 },
        border: { display: true, color: '#000', width: 1 },
        title: { display: true, text: 'Azimuth (deg)', font: { size: 13.9 }, padding: { top: 4, bottom: 14 } }
      },
      y: {
        type: 'linear', min: -10, max: 10,
        afterBuildTicks: s => { s.ticks = yTicks.map(v => ({ value: v })); },
        afterFit: s => { s.width = 87; },
        ticks: { font: { size: 13.9 }, padding: 5, autoSkip: false,
          callback: (v, i) => yTickLabels[i] },
        grid: { color: '#b0b0b0', lineWidth: 1, tickColor: '#000', tickLength: 5 },
        border: { display: true, color: '#000', width: 1 },
        title: { display: true, text: 'Median CNoDiff (dB)', font: { size: 13.9 }, padding: { top: 12, bottom: 4 } }
      },
      legendSpace: {
        type: 'linear', position: 'right', display: true,
        afterFit: s => { s.width = 180; },
        ticks: { display: false },
        grid: { display: false, drawTicks: false },
        border: { display: false }
      }
    }
  },
  plugins: [framePlugin, legendPlugin]
});
</script>
</body></html>
